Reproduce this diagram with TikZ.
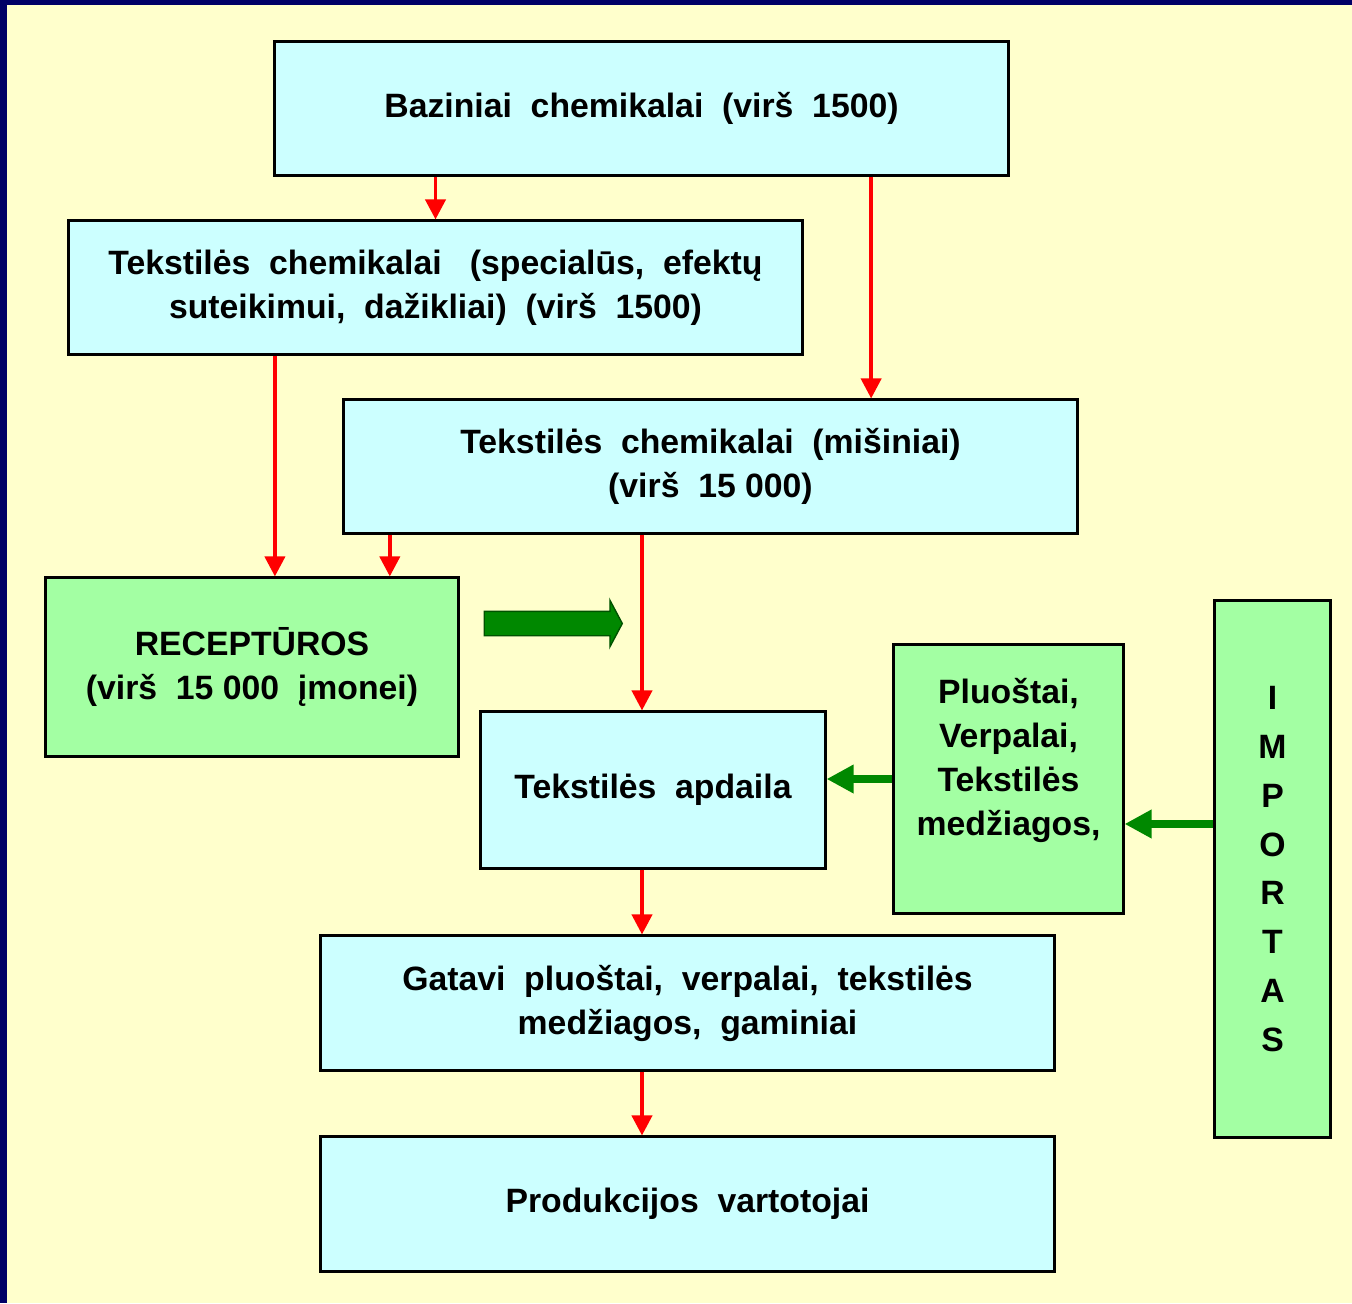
\documentclass[tikz,border=0pt]{standalone}
\usepackage{fontspec}
\setmainfont{Liberation Sans}
\usetikzlibrary{arrows.meta,shapes.arrows}
\definecolor{frame}{HTML}{000066}
\definecolor{paper}{HTML}{FFFFCC}
\definecolor{boxcyan}{HTML}{CCFFFF}
\definecolor{boxgreen}{HTML}{A3FFA3}
\definecolor{arrgreen}{HTML}{008800}
\begin{document}
\begin{tikzpicture}[x=0.01cm,y=-0.01cm,
  every node/.style={font=\fontsize{9.6}{12.5}\selectfont\bfseries,align=center,inner sep=0pt},
  cbox/.style={draw,line width=0.85pt,fill=boxcyan},
  gbox/.style={draw,line width=0.85pt,fill=boxgreen},
  redarr/.style={draw=red,line width=1.1pt,-{Triangle[width=0.2cm,length=0.2cm]}},
  grnarr/.style={draw=arrgreen,line width=2pt,-{Triangle[width=0.27cm,length=0.27cm]}}]
\useasboundingbox (0,0) rectangle (1352,1303);
\fill[frame] (0,0) rectangle (1352,1303);
\fill[paper] (7,5) rectangle (1352,1303);
\node[cbox,minimum width=7.33cm,minimum height=1.33cm] (bazin) at (641.5,108.5)
  {Baziniai\ \ chemikalai\ \ (virš\ \ 1500)};
\node[cbox,minimum width=7.33cm,minimum height=1.33cm] (spec) at (435.5,287.5)
  {Tekstilės\ \ chemikalai\ \ \ (specialūs,\ \ efektų\\suteikimui,\ \ dažikliai)\ \ (virš\ \ 1500)};
\node[cbox,minimum width=7.33cm,minimum height=1.33cm] (misin) at (710.5,466.5)
  {Tekstilės\ \ chemikalai\ \ (mišiniai)\\(virš\ \ 15 000)};
\node[gbox,minimum width=4.12cm,minimum height=1.78cm] (recept) at (252,667)
  {RECEPTŪROS\\(virš\ \ 15 000\ \ įmonei)};
\node[cbox,minimum width=3.44cm,minimum height=1.56cm] (apdaila) at (653,790)
  {Tekstilės\ \ apdaila};
\node[gbox,minimum width=2.29cm,minimum height=2.68cm] (pluost) at (1008.5,779)
  {Pluoštai,\\Verpalai,\\Tekstilės\\medžiagos,\\~};
\node[gbox,minimum width=1.15cm,minimum height=5.36cm,
  font=\fontsize{9.6}{13.9}\selectfont\bfseries] (import) at (1272.5,869)
  {I\\M\\P\\O\\R\\T\\A\\S};
\node[cbox,minimum width=7.33cm,minimum height=1.34cm] (gatavi) at (687.5,1003)
  {Gatavi\ \ pluoštai,\ \ verpalai,\ \ tekstilės\\medžiagos,\ \ gaminiai};
\node[cbox,minimum width=7.33cm,minimum height=1.34cm] (prod) at (687.5,1204)
  {Produkcijos\ \ vartotojai};
\node[single arrow,fill=arrgreen,draw=arrgreen!60!black,line width=0.4pt,
  inner xsep=0pt,inner ysep=0.115cm,minimum height=1.38cm,
  single arrow head extend=0.11cm,single arrow tip angle=124] (perkel) at (550,623.5) {};
\draw[redarr] (bazin.south -| spec.north) -- (spec.north);
\draw[redarr] ([xshift=2.295cm]bazin.south) -- ([xshift=2.295cm]bazin.south |- misin.north);
\draw[redarr] ([xshift=-1.605cm]spec.south) -- ([xshift=-1.605cm]spec.south |- recept.north);
\draw[redarr] ([xshift=-3.205cm]misin.south) -- ([xshift=-3.205cm]misin.south |- recept.north);
\draw[redarr] ([xshift=-0.11cm]apdaila.north |- misin.south) -- ([xshift=-0.11cm]apdaila.north);
\draw[redarr] ([xshift=-0.11cm]apdaila.south) -- ([xshift=-0.11cm]apdaila.south |- gatavi.north);
\draw[redarr] ([xshift=-0.455cm]gatavi.south) -- ([xshift=-0.455cm]gatavi.south |- prod.north);
\draw[grnarr] (pluost.west) -- (pluost.west -| apdaila.east);
\draw[grnarr] ([yshift=0.45cm]import.west) -- ([yshift=0.45cm]import.west -| pluost.east);
\end{tikzpicture}
\end{document}
